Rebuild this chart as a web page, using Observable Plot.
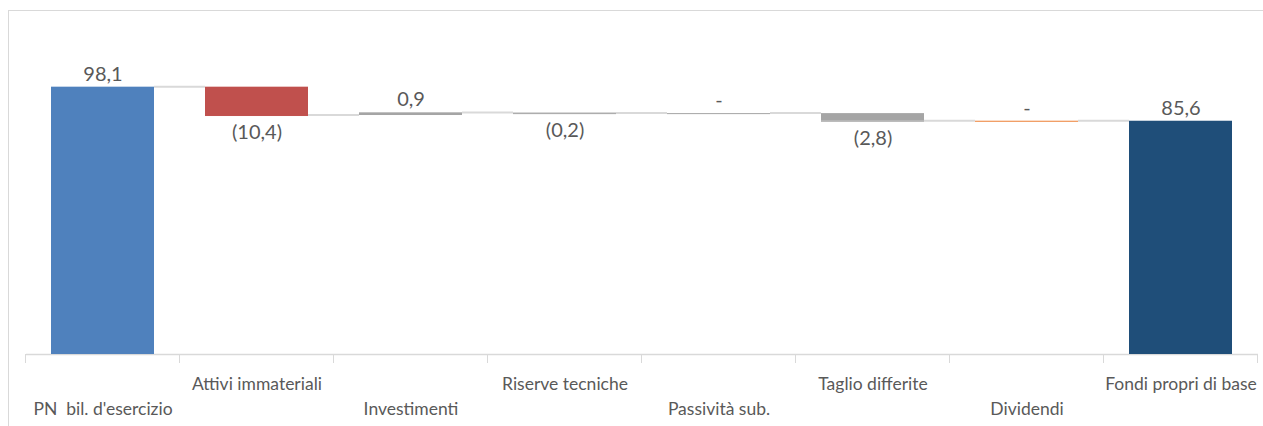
<!DOCTYPE html>
<html><head><meta charset="utf-8">
<script src="https://cdn.jsdelivr.net/npm/d3@7"></script>
<script src="https://cdn.jsdelivr.net/npm/@observablehq/plot@0.6"></script>
<style>
html,body{margin:0;padding:0;background:#fff;overflow:hidden;}
#chart{position:absolute;left:0;top:0;}
#frame{position:absolute;left:8px;top:10px;width:1270px;height:440px;border:1px solid #D9D9D9;box-sizing:border-box;pointer-events:none;}
svg text{white-space:pre;}
</style></head><body>
<div id="chart"></div><div id="frame"></div>
<script>
// Data
const categories = ["PN  bil. d'esercizio", "Attivi immateriali", "Investimenti", "Riserve tecniche", "Passività sub.", "Taglio differite", "Dividendi", "Fondi propri di base"];
const values = [98.1, -10.4, 0.9, -0.2, 0, -2.8, 0, 85.6];
const kinds = ["total", "delta", "delta", "delta", "delta", "delta", "delta", "total"];

// Styles
const palette = ["#4F81BD", "#C0504D", "#A5A5A5", "#A5A5A5", "#A5A5A5", "#A5A5A5", "#ED7D31", "#1F4E79"];
const num = v => v.toFixed(1).replace(".", ",");
const fmt = v => v === 0 ? "-" : v < 0 ? `(${num(-v)})` : num(v);

let running = 0;
const steps = categories.map((cat, i) => {
  let y1, y2;
  if (kinds[i] === "total") { y1 = 0; y2 = values[i]; }
  else { y1 = running; y2 = running + values[i]; }
  running = y2;
  return {cat, i, value: values[i], kind: kinds[i], y1, y2, end: y2,
    top: Math.max(y1, y2), bottom: Math.min(y1, y2), color: palette[i], label: fmt(values[i])};
});

function guides(index, scales) {
  const x = scales.x, y = scales.y;
  const sx = scales.scales && scales.scales.x;
  const bw = x.bandwidth ? x.bandwidth() : sx.bandwidth;
  const step = x.step ? x.step() : sx.step;
  const gap = (step - bw) / 2;
  const g = d3.create("svg:g").attr("stroke", "#D9D9D9").attr("fill", "none");
  for (let i = 0; i < steps.length - 1; i++) {
    const yy = y(steps[i].end);
    g.append("line").attr("x1", x(steps[i].cat) + bw).attr("x2", x(steps[i + 1].cat))
      .attr("y1", yy).attr("y2", yy).attr("stroke-width", 2);
  }
  const bounds = steps.map(d => x(d.cat) - gap);
  bounds.push(x(steps[steps.length - 1].cat) + bw + gap);
  const y0 = y(0);
  for (const b of bounds) {
    g.append("line").attr("x1", b).attr("x2", b).attr("y1", y0).attr("y2", y0 + 9).attr("stroke-width", 1);
  }
  return g.node();
}

const chart = Plot.plot({
  width: 1263,
  height: 426,
  marginLeft: 26,
  marginRight: 5,
  marginTop: 27,
  marginBottom: 72,
  style: {fontFamily: "Lato, sans-serif", background: "transparent"},
  x: {domain: categories, paddingInner: 0.33, paddingOuter: 0.165, axis: null},
  y: {domain: [0, 120], axis: null},
  color: {type: "identity"},
  marks: [
    guides,
    Plot.ruleY([0], {stroke: "#D9D9D9", strokeWidth: 1.5}),
    Plot.barY(steps, {x: "cat", y1: "y1", y2: "y2", fill: "color"}),
    Plot.tickY(steps.filter(d => d.kind !== "total"), {x: "cat", y: "end", stroke: "color", strokeWidth: 1}),
    Plot.text(steps.filter(d => d.value >= 0), {x: "cat", y: "top", text: "label", dy: -13, fontSize: 20, fill: "#595959"}),
    Plot.text(steps.filter(d => d.value < 0), {x: "cat", y: "bottom", text: "label", dy: 17, fontSize: 20, fill: "#595959"}),
    Plot.text(steps.filter(d => d.i % 2 === 0), {x: "cat", y: () => 0, text: "cat", dy: 55, fontSize: 17.5, fill: "#595959"}),
    Plot.text(steps.filter(d => d.i % 2 === 1), {x: "cat", y: () => 0, text: "cat", dy: 30, fontSize: 17.5, fill: "#595959"})
  ]
});
document.getElementById("chart").appendChild(chart);
</script>
</body></html>
